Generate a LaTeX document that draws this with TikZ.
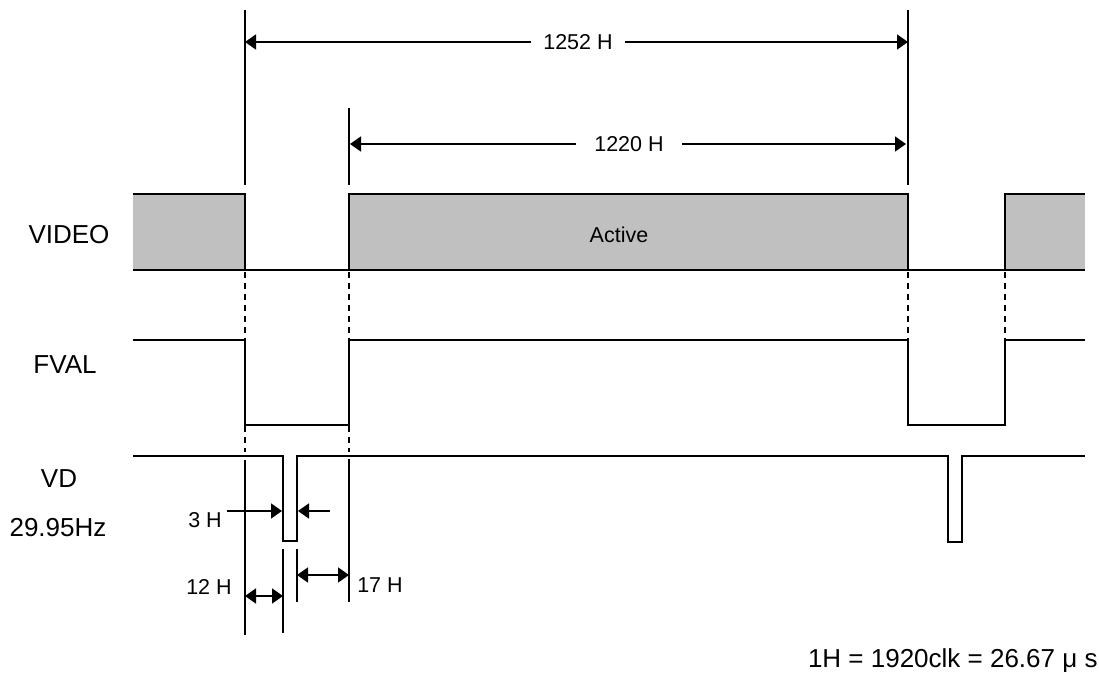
\documentclass[tikz,border=0pt]{standalone}
\usepackage{fontspec}
\setmainfont{Liberation Sans}
\usetikzlibrary{arrows.meta}
\definecolor{boxgray}{RGB}{192,192,192}
\begin{document}
\begin{tikzpicture}[x=0.5pt,y=-0.5pt,
  sig/.style={line width=1pt},
  guide/.style={line width=0.7pt,dash pattern=on 3pt off 2.5pt},
  dim/.style={line width=0.9pt,-{Triangle[length=5.5pt,width=7.5pt]}},
  ddim/.style={line width=0.9pt,{Triangle[length=5.5pt,width=7.5pt]}-{Triangle[length=5.5pt,width=7.5pt]}},
  big/.style={font=\fontsize{13}{15}\selectfont},
  small/.style={font=\fontsize{10.75}{13}\selectfont},
  lbl/.style={small,inner sep=6pt}]
\useasboundingbox (0,0) rectangle (1099,678);
% signal names
\node[big] (nvideo) at (69,235) {VIDEO};
\node[big] (nfval) at (65,365) {FVAL};
\node[big] (nvd) at (59,479) {VD};
\node[big] (nfreq) at (58,528) {29.95Hz};
% VIDEO
\fill[boxgray] (133,194) rectangle (245,270);
\fill[boxgray] (349,194) rectangle (908,270);
\fill[boxgray] (1005,194) rectangle (1085,270);
\draw[sig] (133,194) -- (245,194) -- (245,270);
\draw[sig] (349,270) -- (349,194) -- (908,194) -- (908,270);
\draw[sig] (1005,270) -- (1005,194) -- (1085,194);
\draw[sig] (133,270) -- (1085,270);
\node[small] (nactive) at (619,235) {Active};
% FVAL
\draw[sig] (133,340) -| (245,425) -| (349,340) -| (908,425) -| (1005,340) -- (1085,340);
% VD
\draw[sig] (133,456) -| (283,541) -| (297,456) -| (948,542) -| (962,456) -- (1085,456);
% guides
\draw[sig] (245,10) -- (245,185);
\draw[sig] (349,108) -- (349,185);
\draw[sig] (908,10) -- (908,185);
\draw[guide] (245,272) -- (245,452);
\draw[guide] (349,272) -- (349,452);
\draw[guide] (908,272) -- (908,340);
\draw[guide] (1005,272) -- (1005,340);
\draw[sig] (245,460) -- (245,635);
\draw[sig] (349,459) -- (349,602);
\draw[sig] (283,549) -- (283,633);
\draw[sig] (297,549) -- (297,602);
% dimensions
\coordinate (a1) at (245,42);
\coordinate (b1) at (908,42);
\node[lbl] (t1252) at (578,42) {1252 H};
\draw[dim] (t1252) -- (a1);
\draw[dim] (t1252) -- (b1);
\coordinate (a2) at (350,144);
\coordinate (b2) at (906,144);
\node[lbl,inner sep=9pt] (t1220) at (629,144) {1220 H};
\draw[dim] (t1220) -- (a2);
\draw[dim] (t1220) -- (b2);
\node[small] (t3) at (205,520) {3 H};
\coordinate (c3a) at (227,511);
\coordinate (c3b) at (282,511);
\coordinate (c3c) at (330,511);
\coordinate (c3d) at (298,511);
\draw[dim] (c3a) -- (c3b);
\draw[dim] (c3c) -- (c3d);
\node[small] (t12) at (209,587) {12 H};
\coordinate (c12a) at (245,596);
\coordinate (c12b) at (283,596);
\draw[ddim] (c12a) -- (c12b);
\node[small] (t17) at (380,585) {17 H};
\coordinate (c17a) at (297,575);
\coordinate (c17b) at (349,575);
\draw[ddim] (c17a) -- (c17b);
\node[big,anchor=base east,inner sep=0pt] (nnote) at (1098,668) {1H = 1920clk = 26.67 μ s};
\end{tikzpicture}
\end{document}
